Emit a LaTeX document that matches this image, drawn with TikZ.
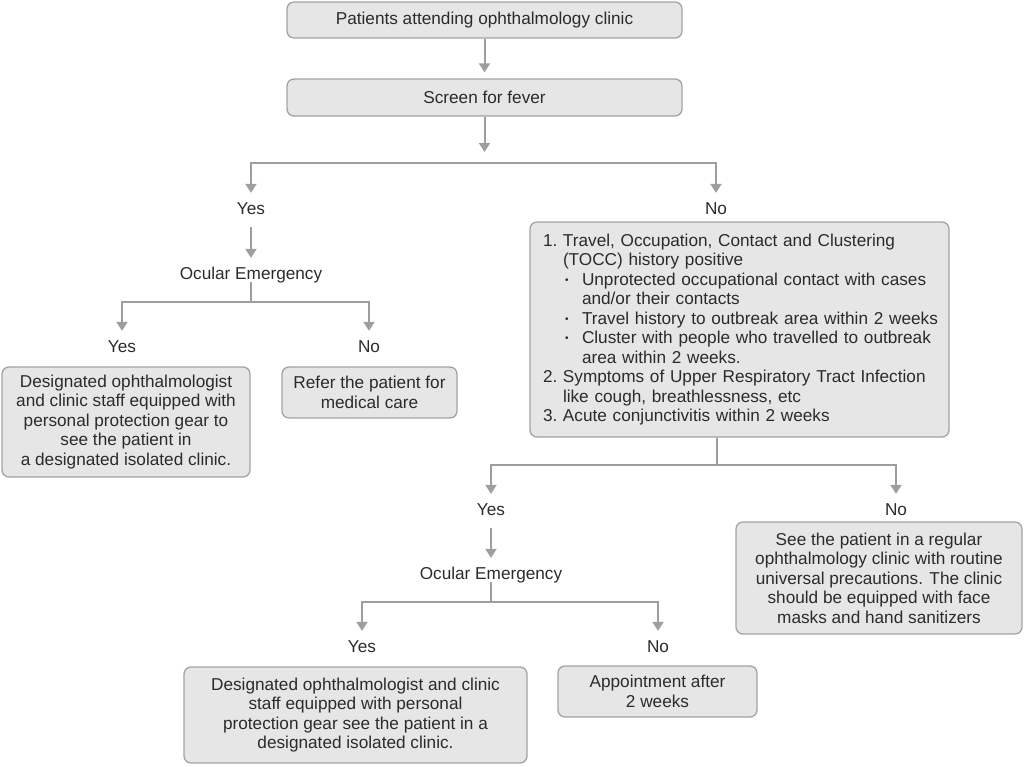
\documentclass[tikz,border=0pt]{standalone}
\usepackage{fontspec}
\setmainfont{Liberation Sans}
\usetikzlibrary{arrows.meta}
\definecolor{boxfill}{HTML}{E6E6E6}
\definecolor{boxline}{HTML}{A3A3A3}
\definecolor{arrcol}{HTML}{9E9E9E}
\definecolor{txt}{HTML}{2B2B2B}
\newcommand{\blt}{\makebox[17pt][l]{\fontsize{10}{10}\selectfont\raisebox{2.2pt}{•}}}
\tikzset{
  every node/.style={text=txt, font=\fontsize{17.2}{19.5}\selectfont},
  stepbox/.style={draw=boxline, fill=boxfill, line width=1.3pt, rounded corners=7pt, align=center, inner sep=0pt},
  lbl/.style={inner xsep=0pt, inner ysep=8.8pt, text height=12.3pt, text depth=0pt},
  conn/.style={draw=arrcol, line width=2pt},
  arr/.style={conn, -{Triangle[width=11pt,length=9pt]}},
}
\begin{document}
\begin{tikzpicture}[x=1pt,y=-1pt]
\useasboundingbox (0,0) rectangle (1024,766);
% top boxes
\node[stepbox, minimum width=395pt, minimum height=36pt] (b1) at (484.5,20) {Patients attending ophthalmology clinic};
\node[stepbox, minimum width=395pt, minimum height=37pt] (b2) at (484.5,97.5) {Screen for fever};
\coordinate (c1) at (484.5,152);
\coordinate (fork1) at (484.5,163);
\draw[arr, shorten >=6pt] (b1) -- (b2);
\draw[arr] (b2) -- (c1);

% left branch
\node[lbl] (yes1) at (251,208) {Yes};
\node[lbl] (no1) at (716,208) {No};
\draw[arr] (fork1) -| (yes1);
\draw[arr] (fork1) -| (no1);
\node[lbl] (oe1) at (251,273) {Ocular Emergency};
\draw[arr, shorten <=4pt] (yes1) -- (oe1);
\coordinate (fork2) at (251,302);
\draw[conn, shorten <=-6pt] (oe1) -- (fork2);
\node[lbl] (yes2) at (122,346) {Yes};
\node[lbl] (no2) at (369,346) {No};
\draw[arr] (fork2) -| (yes2);
\draw[arr] (fork2) -| (no2);
\node[stepbox, minimum width=248pt, minimum height=110pt] (l1) at (126,422) {Designated ophthalmologist\\and clinic staff equipped with\\personal protection gear to\\see the patient in\\a designated isolated clinic.};
\node[stepbox, minimum width=175pt, minimum height=51pt] (l2) at (369.5,392.5) {Refer the patient for\\medical care};

% right branch
\node[stepbox, align=left, text width=393pt, inner xsep=13pt, minimum height=215pt] (br) at (739.5,329.5) {%
\mbox{\makebox[20pt][l]{1.}Travel, Occupation, Contact and Clustering}\\
\mbox{\hspace*{20pt}(TOCC) history positive}\\
\mbox{\hspace*{22pt}\blt Unprotected occupational contact with cases}\\
\mbox{\hspace*{39pt}and/or their contacts}\\
\mbox{\hspace*{22pt}\blt Travel history to outbreak area within 2 weeks}\\
\mbox{\hspace*{22pt}\blt Cluster with people who travelled to outbreak}\\
\mbox{\hspace*{39pt}area within 2 weeks.}\\
\mbox{\makebox[20pt][l]{2.}Symptoms of Upper Respiratory Tract Infection}\\
\mbox{\hspace*{20pt}like cough, breathlessness, etc}\\
\mbox{\makebox[20pt][l]{3.}Acute conjunctivitis within 2 weeks}};
\coordinate (fork3) at (716.5,465);
\draw[conn] (fork3 |- br.south) -- (fork3);
\node[lbl] (yes3) at (491,509) {Yes};
\node[lbl] (no3) at (896,509) {No};
\draw[arr] (fork3) -| (yes3);
\draw[arr] (fork3) -| (no3);
\node[stepbox, minimum width=286pt, minimum height=112pt] (rr) at (879,578) {See the patient in a regular\\ophthalmology clinic with routine\\universal precautions. The clinic\\should be equipped with face\\masks and hand sanitizers};
\node[lbl] (oe2) at (491,573) {Ocular Emergency};
\draw[arr, shorten <=4pt] (yes3) -- (oe2);
\coordinate (fork4) at (491,602);
\draw[conn, shorten <=-6pt] (oe2) -- (fork4);
\node[lbl] (yes4) at (362,646) {Yes};
\node[lbl] (no4) at (658,646) {No};
\draw[arr] (fork4) -| (yes4);
\draw[arr] (fork4) -| (no4);
\node[stepbox, minimum width=343pt, minimum height=96pt] (bl) at (355.5,715) {Designated ophthalmologist and clinic\\staff equipped with personal\\protection gear see the patient in a\\designated isolated clinic.};
\node[stepbox, minimum width=199pt, minimum height=51pt] (bbr) at (657.5,691.5) {Appointment after\\2 weeks};
\end{tikzpicture}
\end{document}
